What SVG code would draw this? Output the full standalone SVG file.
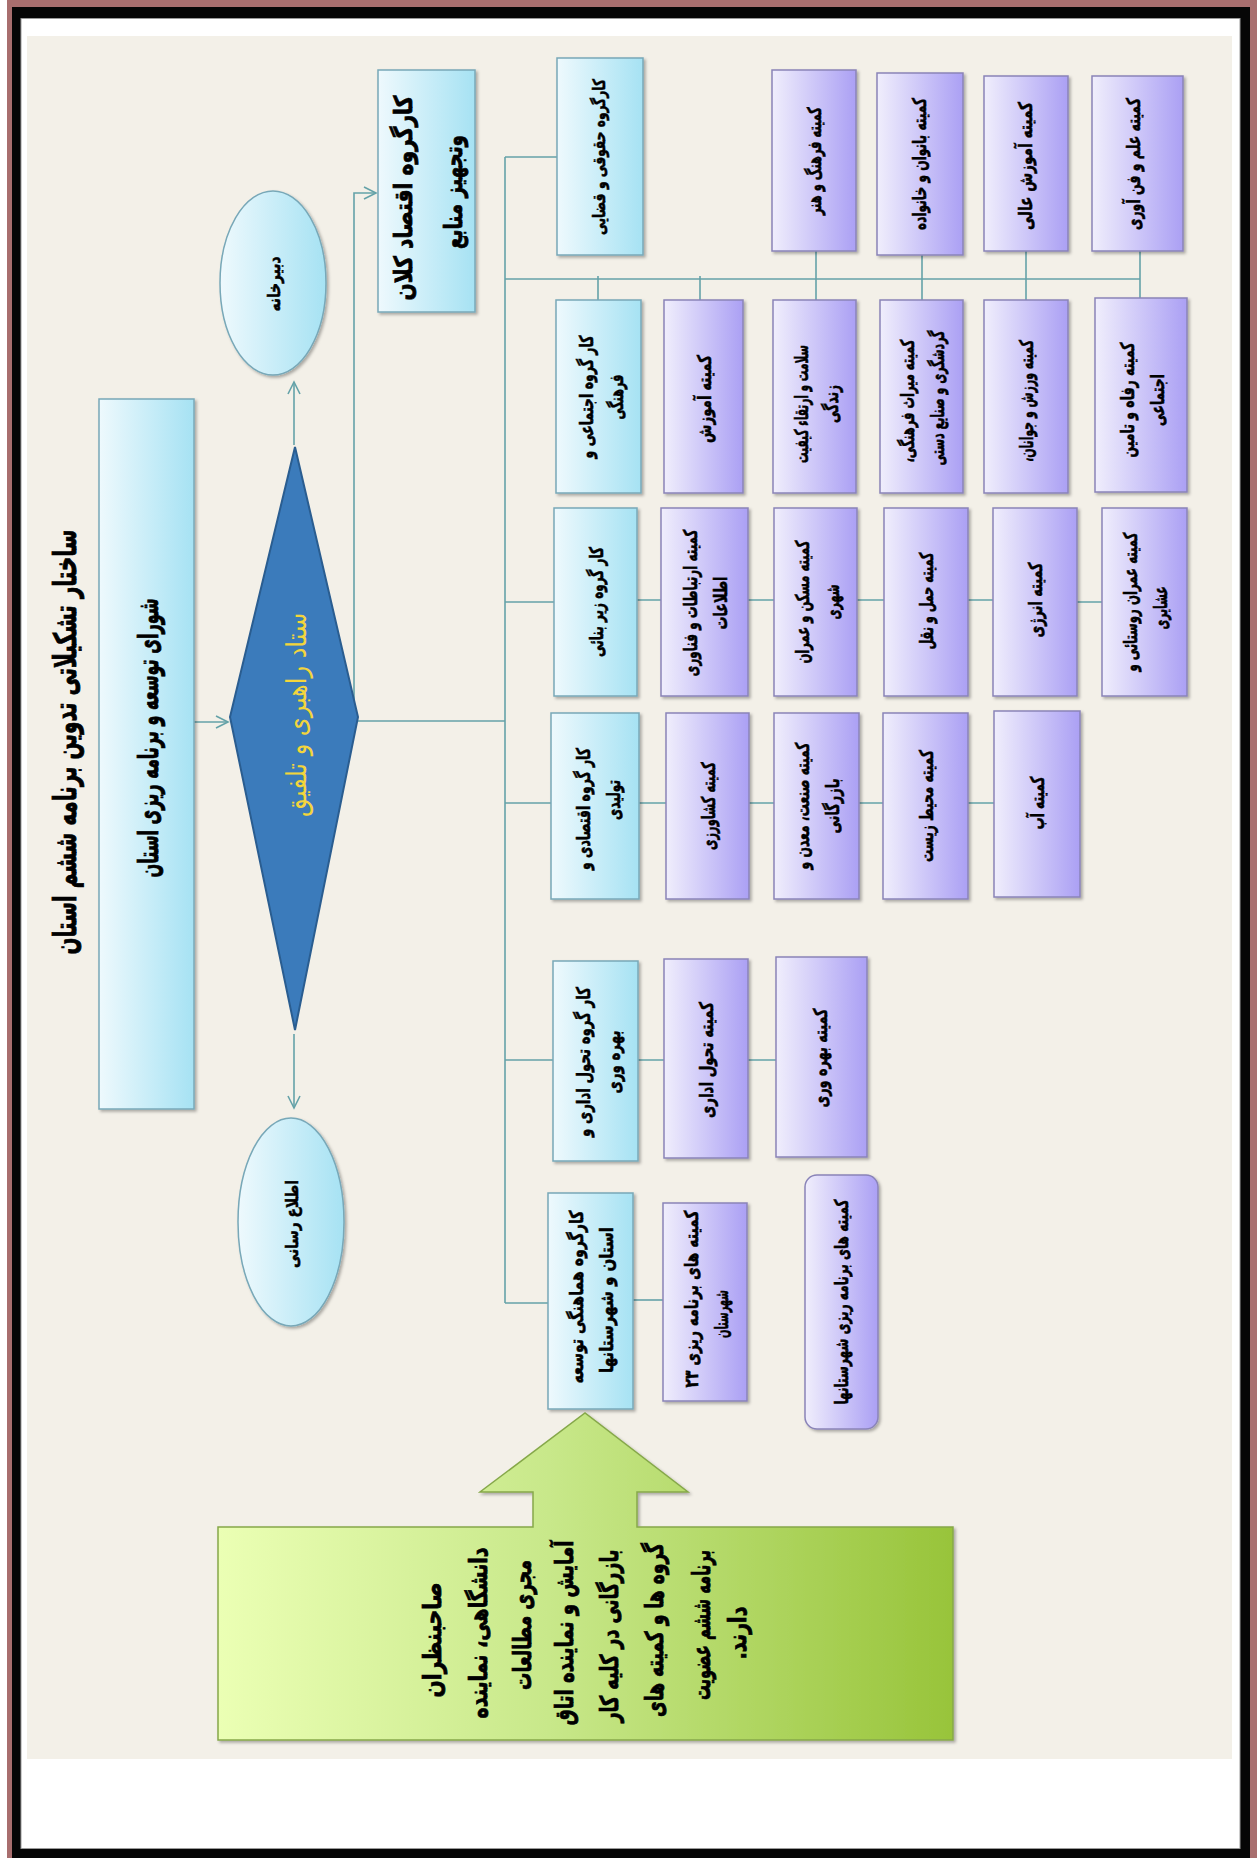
<svg xmlns="http://www.w3.org/2000/svg" width="1257" height="1858" viewBox="0 0 1257 1858">
<defs>
<linearGradient id="gc" x1="0" y1="0" x2="1" y2="0"><stop offset="0" stop-color="#eef9fd"/><stop offset="1" stop-color="#a6e2f3"/></linearGradient>
<linearGradient id="gp" x1="0" y1="0" x2="1" y2="0"><stop offset="0" stop-color="#f0eefc"/><stop offset="1" stop-color="#aba0f4"/></linearGradient>
<linearGradient id="gg" gradientUnits="userSpaceOnUse" x1="218" y1="0" x2="953" y2="0"><stop offset="0" stop-color="#ebffb4"/><stop offset="0.45" stop-color="#c8e88a"/><stop offset="1" stop-color="#98c43a"/></linearGradient>
<filter id="sh" x="-10%" y="-10%" width="130%" height="130%"><feDropShadow dx="2" dy="2" stdDeviation="1.5" flood-color="#000" flood-opacity="0.3"/></filter>
<marker id="ar" markerUnits="userSpaceOnUse" markerWidth="16" markerHeight="16" refX="13" refY="7" orient="auto"><path d="M1,1 L13,7 L1,13" fill="none" stroke="#64a2a8" stroke-width="1.6"/></marker>
</defs>
<style>
.cy{fill:url(#gc);stroke:#78a8b8;stroke-width:1.5;filter:url(#sh)}
.pu{fill:url(#gp);stroke:#8a84b8;stroke-width:1.5;filter:url(#sh)}
.t{font-family:"DejaVu Sans",sans-serif;font-weight:bold;fill:#000;stroke:#000;stroke-width:0.55;text-anchor:middle;dominant-baseline:central;direction:rtl;font-size:19px}
.sm{font-size:17px}
.big{font-size:25px;stroke-width:0.8}
.ti{font-size:31px;stroke-width:0.9}
.co{font-size:28px;stroke-width:0.8}
.el{font-size:17px}
.gr{font-size:25px;stroke-width:0.8}
.dm{font-family:"DejaVu Sans",sans-serif;font-weight:normal;fill:#f3d53c;text-anchor:middle;dominant-baseline:central;direction:rtl;font-size:28px}
.c{fill:none;stroke:#64a2a8;stroke-width:1.6}
</style>
<rect x="0" y="0" width="1257" height="1858" fill="#ffffff"/>
<rect x="7" y="0" width="1250" height="1858" fill="#a86e6e"/>
<rect x="12" y="7" width="1238" height="1851" fill="#060606"/>
<rect x="21" y="18.5" width="1219" height="1830" fill="#ffffff" stroke="#9a9a9a" stroke-width="1"/>
<rect x="27" y="36" width="1205" height="1723" fill="#f3f0e8"/>

<g id="title"><text class="t ti" transform="translate(65,742) rotate(-90)" textLength="425" lengthAdjust="spacingAndGlyphs">ساختار  تشکیلاتی تدوین برنامه ششم استان</text></g>

<g id="connectors">
<path class="c" d="M194,722 H228" marker-end="url(#ar)"/>
<path class="c" d="M294,445 V382" marker-end="url(#ar)"/>
<path class="c" d="M294,1034 V1108" marker-end="url(#ar)"/>
<path class="c" d="M354,714 V193 H376" marker-end="url(#ar)"/>
<path class="c" d="M358,721 H505"/>
<path class="c" d="M505,157 V1303"/>
<path class="c" d="M505,157 H557"/>
<path class="c" d="M505,279 H1140"/>
<path class="c" d="M505,602 H554"/>
<path class="c" d="M505,803 H551"/>
<path class="c" d="M505,1060 H553"/>
<path class="c" d="M505,1303 H548"/>
<path class="c" d="M598,276 V300"/>
<path class="c" d="M700,276 V300"/>
<path class="c" d="M816,251 V300"/>
<path class="c" d="M922,255 V300"/>
<path class="c" d="M1026,251 V300"/>
<path class="c" d="M1140,251 V298"/>
<path class="c" d="M637,600 H661 M748,600 H774 M857,600 H884 M968,600 H993 M1077,602 H1102"/>
<path class="c" d="M639,803 H666 M749,803 H774 M859,803 H883 M968,803 H994"/>
<path class="c" d="M638,1060 H664 M748,1060 H776"/>
<path class="c" d="M633,1300 H663"/>
</g>

<g id="council"><rect class="cy" x="99" y="399" width="95" height="710"/><text class="t co" transform="translate(148,738) rotate(-90)" textLength="279" lengthAdjust="spacingAndGlyphs">شورای توسعه و برنامه ریزی استان</text></g>

<g id="diamond"><polygon points="295,447 358,717 295,1030 230,717" fill="#3b7bbb" stroke="#2a5d90" stroke-width="2"/><text class="dm" transform="translate(296,715) rotate(-90)" textLength="204" lengthAdjust="spacingAndGlyphs">ستاد راهبری و تلفیق</text></g>

<g id="dabirkhaneh"><ellipse class="cy" cx="273" cy="283" rx="53" ry="92"/><text class="t el" transform="translate(274,284) rotate(-90)" textLength="55" lengthAdjust="spacingAndGlyphs">دبیرخانه</text></g>

<g id="etela"><ellipse class="cy" cx="291" cy="1222" rx="53" ry="104"/><text class="t el" transform="translate(292,1224) rotate(-90)" textLength="88" lengthAdjust="spacingAndGlyphs">اطلاع رسانی</text></g>

<g id="macro"><rect class="cy" x="378" y="70" width="97" height="242"/>
<text class="t big" transform="translate(403,198) rotate(-90)" textLength="205" lengthAdjust="spacingAndGlyphs">کارگروه اقتصاد کلان</text>
<text class="t big" transform="translate(453,192) rotate(-90)" textLength="114" lengthAdjust="spacingAndGlyphs">وتجهیز منابع</text></g>

<g id="huqughi"><rect class="cy" x="557" y="58" width="86" height="197"/><text class="t sm" transform="translate(599,157) rotate(-90)" textLength="156" lengthAdjust="spacingAndGlyphs">کارگروه حقوقی و قضایی</text></g>
<g id="farhang"><rect class="pu" x="772" y="70" width="84" height="181"/><text class="t" transform="translate(814,161) rotate(-90)" textLength="108" lengthAdjust="spacingAndGlyphs">کمیته فرهنگ و هنر</text></g>
<g id="banovan"><rect class="pu" x="877" y="73" width="86" height="182"/><text class="t" transform="translate(919,164) rotate(-90)" textLength="132" lengthAdjust="spacingAndGlyphs">کمیته بانوان و خانواده</text></g>
<g id="amoozesh-ali"><rect class="pu" x="984" y="76" width="84" height="175"/><text class="t" transform="translate(1025,166) rotate(-90)" textLength="128" lengthAdjust="spacingAndGlyphs">کمیته  آموزش عالی</text></g>
<g id="elm"><rect class="pu" x="1092" y="76" width="91" height="175"/><text class="t" transform="translate(1133,164) rotate(-90)" textLength="132" lengthAdjust="spacingAndGlyphs">کمیته علم و فن آوری</text></g>

<g id="ejtemai"><rect class="cy" x="556" y="300" width="85" height="193"/>
<text class="t" transform="translate(586,397) rotate(-90)" textLength="123" lengthAdjust="spacingAndGlyphs">کار گروه اجتماعی و</text>
<text class="t" transform="translate(616,397) rotate(-90)" textLength="45" lengthAdjust="spacingAndGlyphs">فرهنگی</text></g>
<g id="amoozesh"><rect class="pu" x="664" y="300" width="79" height="193"/><text class="t" transform="translate(704,399) rotate(-90)" textLength="88" lengthAdjust="spacingAndGlyphs">کمیته  آموزش</text></g>
<g id="salamat"><rect class="pu" x="773" y="300" width="83" height="193"/>
<text class="t" transform="translate(801,404) rotate(-90)" textLength="118" lengthAdjust="spacingAndGlyphs">سلامت و ارتقاء کیفیت</text>
<text class="t" transform="translate(831,404) rotate(-90)" textLength="38" lengthAdjust="spacingAndGlyphs">زندگی</text></g>
<g id="miras"><rect class="pu" x="880" y="300" width="83" height="193"/>
<text class="t" transform="translate(907,401) rotate(-90)" textLength="123" lengthAdjust="spacingAndGlyphs">کمیته میراث فرهنگی،</text>
<text class="t" transform="translate(937,398) rotate(-90)" textLength="135" lengthAdjust="spacingAndGlyphs">گردشگری و صنایع دستی</text></g>
<g id="varzesh"><rect class="pu" x="984" y="300" width="84" height="193"/><text class="t" transform="translate(1026,401) rotate(-90)" textLength="122" lengthAdjust="spacingAndGlyphs">کمیته ورزش و جوانان،</text></g>
<g id="refah"><rect class="pu" x="1095" y="298" width="92" height="194"/>
<text class="t" transform="translate(1127,400) rotate(-90)" textLength="115" lengthAdjust="spacingAndGlyphs">کمیته رفاه و تامین</text>
<text class="t" transform="translate(1157,400) rotate(-90)" textLength="52" lengthAdjust="spacingAndGlyphs">اجتماعی</text></g>

<g id="zirbana"><rect class="cy" x="554" y="508" width="83" height="188"/><text class="t" transform="translate(596,602) rotate(-90)" textLength="110" lengthAdjust="spacingAndGlyphs">کار گروه زیر بنائی</text></g>
<g id="ertebatat"><rect class="pu" x="661" y="508" width="87" height="188"/>
<text class="t" transform="translate(690,603) rotate(-90)" textLength="147" lengthAdjust="spacingAndGlyphs">کمیته ارتباطات و فناوری</text>
<text class="t" transform="translate(720,603) rotate(-90)" textLength="53" lengthAdjust="spacingAndGlyphs">اطلاعات</text></g>
<g id="maskan"><rect class="pu" x="774" y="508" width="83" height="188"/>
<text class="t" transform="translate(802,602) rotate(-90)" textLength="123" lengthAdjust="spacingAndGlyphs">کمیته مسکن و عمران</text>
<text class="t" transform="translate(832,602) rotate(-90)" textLength="35" lengthAdjust="spacingAndGlyphs">شهری</text></g>
<g id="haml"><rect class="pu" x="884" y="508" width="84" height="188"/><text class="t" transform="translate(926,601) rotate(-90)" textLength="97" lengthAdjust="spacingAndGlyphs">کمیته حمل و نقل</text></g>
<g id="energy"><rect class="pu" x="993" y="508" width="84" height="188"/><text class="t" transform="translate(1035,600) rotate(-90)" textLength="75" lengthAdjust="spacingAndGlyphs">کمیته انرژی</text></g>
<g id="omran"><rect class="pu" x="1102" y="508" width="85" height="188"/>
<text class="t" transform="translate(1130,602) rotate(-90)" textLength="139" lengthAdjust="spacingAndGlyphs">کمیته عمران روستائی و</text>
<text class="t" transform="translate(1160,608) rotate(-90)" textLength="43" lengthAdjust="spacingAndGlyphs">عشایری</text></g>

<g id="eghtesadi"><rect class="cy" x="551" y="713" width="88" height="186"/>
<text class="t" transform="translate(583,809) rotate(-90)" textLength="122" lengthAdjust="spacingAndGlyphs">کار گروه اقتصادی و</text>
<text class="t" transform="translate(613,800) rotate(-90)" textLength="40" lengthAdjust="spacingAndGlyphs">تولیدی</text></g>
<g id="keshavarzi"><rect class="pu" x="666" y="713" width="83" height="186"/><text class="t" transform="translate(708,806) rotate(-90)" textLength="88" lengthAdjust="spacingAndGlyphs">کمیته کشاورزی</text></g>
<g id="sanat"><rect class="pu" x="774" y="713" width="85" height="186"/>
<text class="t" transform="translate(802,806) rotate(-90)" textLength="127" lengthAdjust="spacingAndGlyphs">کمیته صنعت، معدن و</text>
<text class="t" transform="translate(832,806) rotate(-90)" textLength="55" lengthAdjust="spacingAndGlyphs">بازرگانی</text></g>
<g id="mohit"><rect class="pu" x="883" y="713" width="85" height="186"/><text class="t" transform="translate(926,806) rotate(-90)" textLength="112" lengthAdjust="spacingAndGlyphs">کمیته محیط زیست</text></g>
<g id="ab"><rect class="pu" x="994" y="711" width="86" height="186"/><text class="t" transform="translate(1037,803) rotate(-90)" textLength="53" lengthAdjust="spacingAndGlyphs">کمیته آب</text></g>

<g id="tahavol"><rect class="cy" x="553" y="961" width="85" height="200"/>
<text class="t" transform="translate(583,1062) rotate(-90)" textLength="150" lengthAdjust="spacingAndGlyphs">کار گروه تحول اداری و</text>
<text class="t" transform="translate(613,1062) rotate(-90)" textLength="63" lengthAdjust="spacingAndGlyphs">بهره وری</text></g>
<g id="tahavol-edari"><rect class="pu" x="664" y="959" width="84" height="199"/><text class="t" transform="translate(706,1060) rotate(-90)" textLength="116" lengthAdjust="spacingAndGlyphs">کمیته تحول اداری</text></g>
<g id="bahrevari"><rect class="pu" x="776" y="957" width="91" height="200"/><text class="t" transform="translate(820,1058) rotate(-90)" textLength="99" lengthAdjust="spacingAndGlyphs">کمیته بهره وری</text></g>

<g id="hamahangi"><rect class="cy" x="548" y="1193" width="85" height="216"/>
<text class="t" transform="translate(576,1297) rotate(-90)" textLength="173" lengthAdjust="spacingAndGlyphs">کارگروه هماهنگی توسعه</text>
<text class="t" transform="translate(606,1300) rotate(-90)" textLength="146" lengthAdjust="spacingAndGlyphs">استان و شهرستانها</text></g>
<g id="shahrestan23"><rect class="pu" x="663" y="1203" width="84" height="198"/>
<text class="t" transform="translate(691,1299) rotate(-90)" textLength="177" lengthAdjust="spacingAndGlyphs">کمیته های برنامه ریزی ۲۳</text>
<text class="t" transform="translate(721,1314) rotate(-90)" textLength="48" lengthAdjust="spacingAndGlyphs">شهرستان</text></g>
<g id="shahrestanha"><rect class="pu" x="805" y="1175" width="73" height="254" rx="12" ry="12"/><text class="t" transform="translate(841,1302) rotate(-90)" textLength="205" lengthAdjust="spacingAndGlyphs">کمیته های برنامه ریزی شهرستانها</text></g>

<g id="experts">
<path d="M218,1527 H533 V1492 H480 L585,1413 L688,1492 H637 V1527 H953 V1740 H218 Z" fill="url(#gg)" stroke="#86a84a" stroke-width="1.5" filter="url(#sh)"/>
<text class="t gr" transform="translate(432,1640) rotate(-90)" textLength="115" lengthAdjust="spacingAndGlyphs">صاحبنظران</text>
<text class="t gr" transform="translate(478,1633) rotate(-90)" textLength="171" lengthAdjust="spacingAndGlyphs">دانشگاهی، نماینده</text>
<text class="t gr" transform="translate(522,1625) rotate(-90)" textLength="130" lengthAdjust="spacingAndGlyphs">مجری مطالعات</text>
<text class="t gr" transform="translate(564,1633) rotate(-90)" textLength="185" lengthAdjust="spacingAndGlyphs">آمایش و نماینده اتاق</text>
<text class="t gr" transform="translate(609,1636) rotate(-90)" textLength="173" lengthAdjust="spacingAndGlyphs">بازرگانی در کلیه کار</text>
<text class="t gr" transform="translate(654,1630) rotate(-90)" textLength="174" lengthAdjust="spacingAndGlyphs">گروه ها و کمیته های</text>
<text class="t gr" transform="translate(701,1625) rotate(-90)" textLength="150" lengthAdjust="spacingAndGlyphs">برنامه ششم عضویت</text>
<text class="t gr" transform="translate(737,1633) rotate(-90)" textLength="53" lengthAdjust="spacingAndGlyphs">دارند.</text>
</g>
</svg>
